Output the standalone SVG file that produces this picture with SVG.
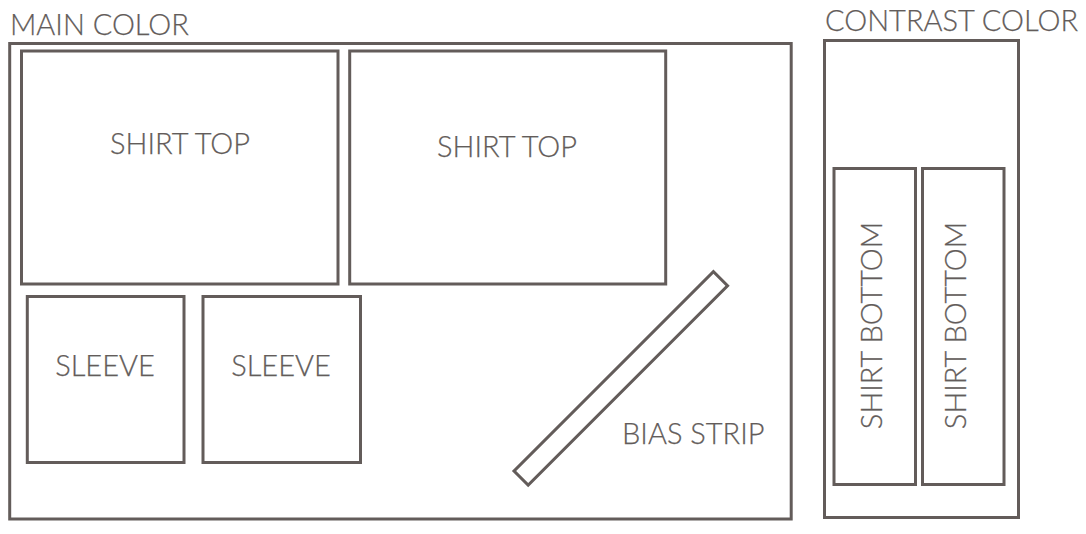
<svg xmlns="http://www.w3.org/2000/svg" width="1086" height="534" viewBox="0 0 1086 534">
<style>
.p{fill:none;stroke:#635c5a;stroke-width:3}
.t{font-family:Lato,"Open Sans","Liberation Sans",sans-serif;font-weight:300;font-size:29px;fill:#635c5a;stroke:#635c5a;stroke-width:0.25}
.c{text-anchor:middle}
</style>
<rect width="1086" height="534" fill="#ffffff"/>
<g id="main-color">
<rect class="p" x="9.7" y="43.5" width="781.5" height="475.5"/>
<text class="t" x="10" y="35">MAIN COLOR</text>
</g>
<g id="shirt-top-1">
<rect class="p" x="21.5" y="51" width="316.5" height="233"/>
<text class="t c" x="180" y="153.5">SHIRT TOP</text>
</g>
<g id="shirt-top-2">
<rect class="p" x="349.7" y="51" width="316" height="233"/>
<text class="t c" x="507" y="157">SHIRT TOP</text>
</g>
<g id="sleeve-1">
<rect class="p" x="27.3" y="296.5" width="156.7" height="166"/>
<text class="t c" x="105" y="376">SLEEVE</text>
</g>
<g id="sleeve-2">
<rect class="p" x="203" y="296.5" width="157.5" height="166"/>
<text class="t c" x="281" y="376">SLEEVE</text>
</g>
<g id="bias-strip">
<rect class="p" x="-141" y="-10" width="282" height="20" transform="translate(620.8 378.3) rotate(-45)"/>
<text class="t" x="622" y="444">BIAS STRIP</text>
</g>
<g id="contrast-color">
<rect class="p" x="824.5" y="40.5" width="194" height="477"/>
<text class="t" x="825" y="31">CONTRAST COLOR</text>
</g>
<g id="shirt-bottom-1">
<rect class="p" x="834" y="168.5" width="81.5" height="316"/>
<text class="t c" transform="translate(882 325.5) rotate(-90)">SHIRT BOTTOM</text>
</g>
<g id="shirt-bottom-2">
<rect class="p" x="922.5" y="168.5" width="81.5" height="316"/>
<text class="t c" transform="translate(966 325.5) rotate(-90)">SHIRT BOTTOM</text>
</g>
<g id="connectors"></g>
</svg>
